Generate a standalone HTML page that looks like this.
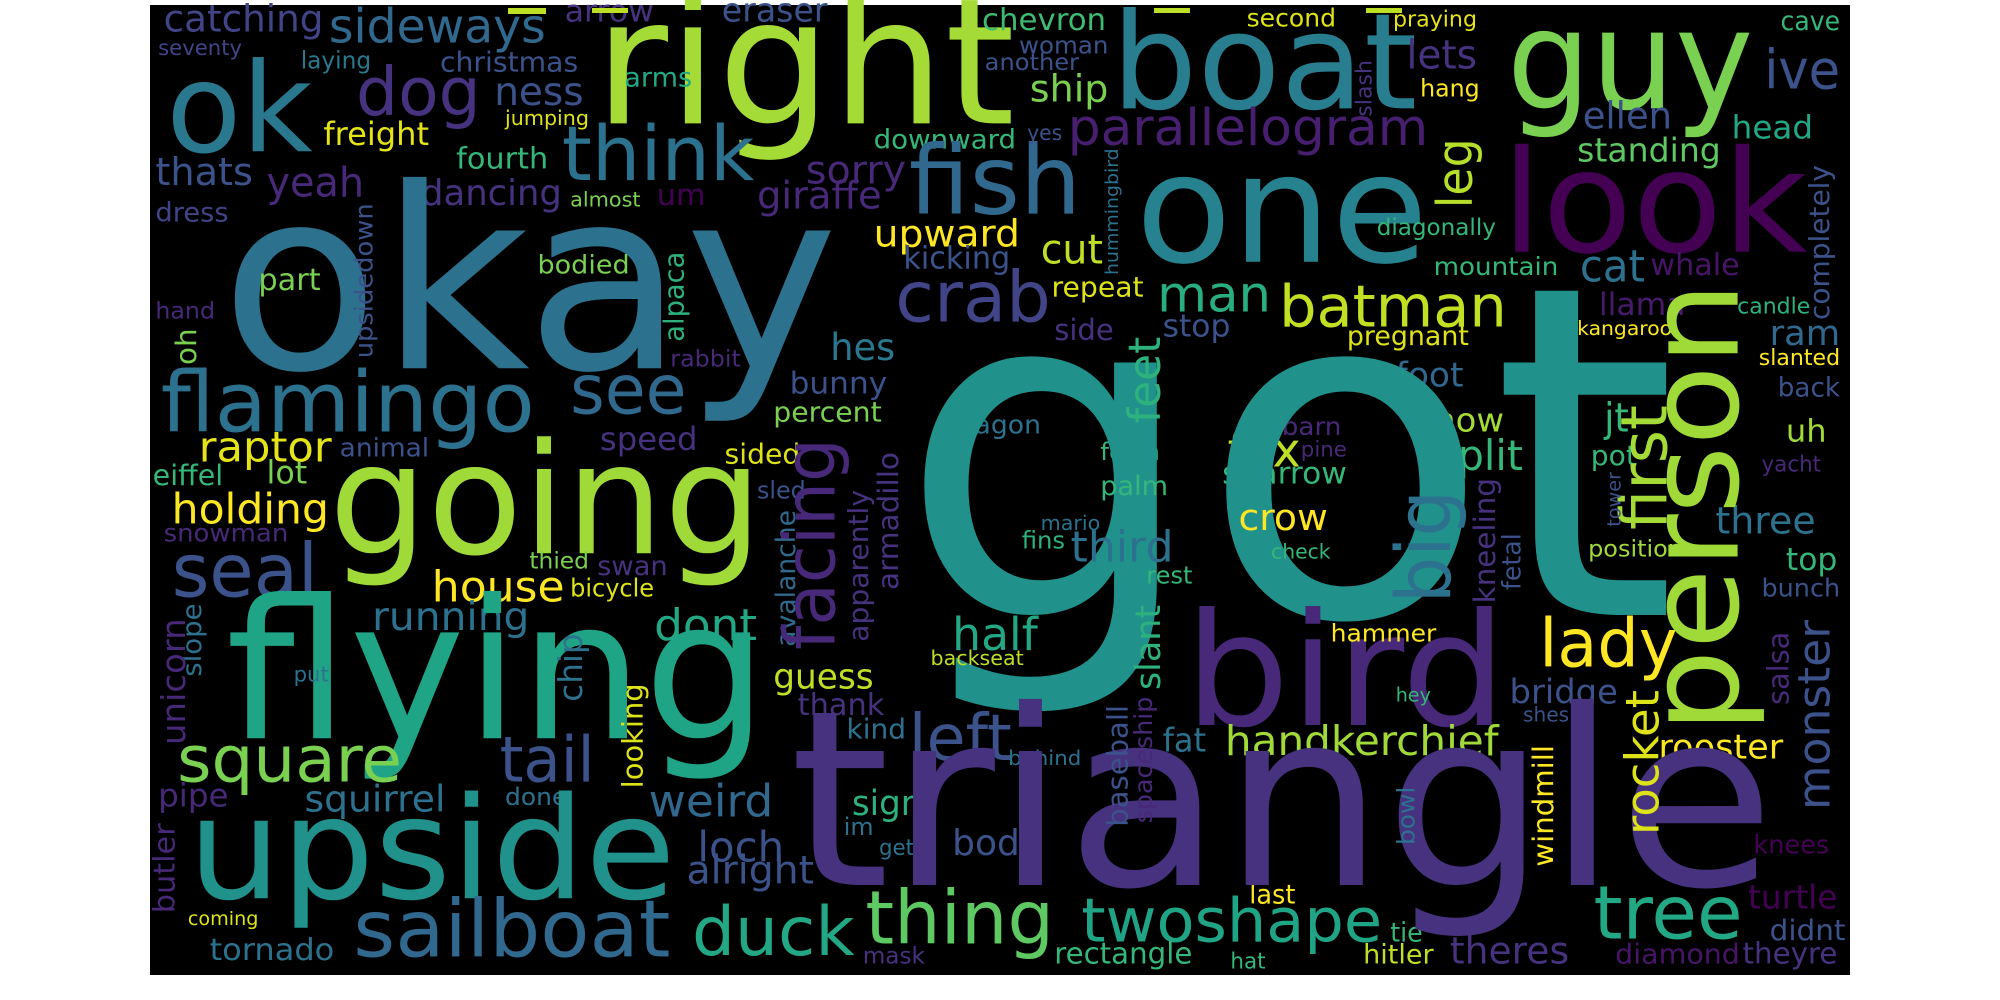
<!DOCTYPE html>
<html><head><meta charset="utf-8"><title>Word cloud</title>
<style>
html,body{margin:0;padding:0;background:#fff;width:2000px;height:1000px;overflow:hidden}
svg{display:block}
text{font-family:"DejaVu Sans","Liberation Sans",sans-serif}
</style></head>
<body>
<svg id="cloud" width="2000" height="1000" viewBox="0 0 2000 1000" xmlns="http://www.w3.org/2000/svg">
<rect x="150" y="5" width="1700" height="970" fill="#000"/>
<g id="words"></g>
<rect x="508" y="8" width="38" height="6" fill="#bddf26"/>
<rect x="592" y="8" width="36" height="5" fill="#bddf26"/>
<rect x="1154" y="8" width="36" height="5" fill="#bddf26"/>
<rect x="1366" y="8" width="36" height="5" fill="#bddf26"/>
</svg>
<script>
// quadrant origins of the reference crops
const quads = [[150,5],[1000,5],[150,490],[1000,490]];
// horizontal words: text, quadrant, left, baseline, right, colour
const horizWords = [
["catching",0,25,80,320,"#414487"],["sideways",0,330,112,730,"#31688e"],["seventy",0,15,150,170,"#414487"],
["laying",0,278,190,408,"#2a788e"],["christmas",0,535,200,790,"#3b528b"],["arrow",0,765,50,930,"#46327e"],
["eraser",0,1055,50,1250,"#3b528b"],["right",0,820,355,1596,"#a5db36"],["ok",0,30,440,300,"#2a788e"],
["dog",0,380,330,610,"#46327e"],["ness",0,635,300,800,"#3b528b"],["arms",0,875,245,1000,"#22a884"],
["jumping",0,655,360,810,"#dde318"],["freight",0,320,420,515,"#e5e419"],["think",0,760,525,1115,"#2c728e"],
["downward",0,1335,430,1598,"#35b779"],["fish",0,1400,625,1718,"#31688e"],["thats",0,10,540,190,"#3b528b"],
["yeah",0,215,575,395,"#482878"],["fourth",0,565,490,735,"#35b779"],["dancing",0,500,600,760,"#46327e"],
["um",0,935,600,1025,"#440154"],["sorry",0,1210,535,1395,"#482878"],["giraffe",0,1120,610,1350,"#482878"],
["almost",0,775,605,905,"#7ad151"],["dress",0,10,650,145,"#414487"],["upward",0,1335,725,1605,"#fde725"],
["kicking",0,1390,790,1587,"#3b528b"],["crab",0,1375,950,1662,"#414487"],["okay",0,130,1090,1270,"#2c728e"],
["part",0,200,855,315,"#7ad151"],["bodied",0,715,805,885,"#7ad151"],["hand",0,10,940,120,"#482878"],
["hes",0,1255,1065,1375,"#2a788e"],["rabbit",0,960,1085,1090,"#482878"],["flamingo",0,20,1280,710,"#2c728e"],
["see",0,775,1225,990,"#31688e"],["bunny",0,1180,1165,1360,"#3b528b"],["percent",0,1150,1250,1350,"#7ad151"],
["speed",0,830,1335,1010,"#46327e"],["raptor",0,90,1370,335,"#e5e419"],["animal",0,350,1355,515,"#3b528b"],
["sided",0,1060,1375,1200,"#dde318"],["eiffel",0,5,1440,135,"#35b779"],["lot",0,215,1435,290,"#7ad151"],
["dragon",0,1470,1285,1644,"#2c728e"],["chevron",0,1535,75,1764,"#3fbc73"],["another",0,1540,195,1714,"#3b528b"],
["boat",1,205,310,770,"#287d8e"],["second",1,455,65,620,"#dde318"],["praying",1,725,65,880,"#e5e419"],
["guy",1,935,310,1390,"#7ad151"],["cave",1,1440,75,1550,"#35b779"],["woman",1,35,145,200,"#3b528b"],
["ship",1,55,290,200,"#7ad151"],["lets",1,750,190,880,"#46327e"],["ive",1,1410,250,1550,"#3b528b"],
["hang",1,775,275,885,"#fde725"],["parallelogram",1,125,420,790,"#481f70"],["ellen",1,1075,370,1240,"#3b528b"],
["yes",1,50,405,115,"#3b528b"],["head",1,1350,400,1500,"#22a884"],["standing",1,1065,470,1330,"#5ec962"],
["one",1,250,770,790,"#26828e"],["look",1,925,740,1490,"#440154"],["diagonally",1,695,690,915,"#35b779"],
["cut",1,75,775,190,"#bddf26"],["mountain",1,800,810,1030,"#35b779"],["cat",1,1070,830,1190,"#2c728e"],
["whale",1,1200,810,1365,"#481467"],["man",1,290,920,500,"#29af7f"],["batman",1,515,965,935,"#c2df23"],
["repeat",1,95,875,265,"#dde318"],["llama",1,1105,930,1265,"#481a6c"],["candle",1,1360,925,1495,"#2db27d"],
["ram",1,1420,1020,1550,"#31688e"],["side",1,100,1005,210,"#46327e"],["stop",1,300,995,425,"#3b528b"],
["pregnant",1,640,1020,865,"#dde318"],["kangaroo",1,1065,990,1240,"#fde725"],["slanted",1,1400,1080,1550,"#fde725"],
["foot",1,730,1145,855,"#31688e"],["back",1,1435,1175,1550,"#3b528b"],["know",1,765,1280,930,"#a5db36"],
["barn",1,520,1290,630,"#482878"],["jt",1,1115,1280,1160,"#35b779"],["uh",1,1450,1310,1525,"#a0da39"],
["forth",1,185,1365,295,"#35b779"],["fox",1,420,1385,555,"#bddf26"],["pine",1,555,1355,640,"#482878"],
["split",1,805,1395,965,"#35b779"],["pot",1,1090,1380,1175,"#35b779"],["yacht",1,1405,1400,1515,"#482878"],
["sparrow",1,410,1435,640,"#35b779"],["got",1,-188,1830,1250,"#21918c"],
["palm",3,185,15,310,"#35b779"],["crow",3,440,120,605,"#fde725"],["mario",3,75,120,185,"#2c728e"],
["fins",3,40,175,120,"#2db27d"],["third",3,130,215,320,"#2c728e"],["check",3,500,205,610,"#35b779"],
["position",3,1085,200,1260,"#a0da39"],["three",3,1320,130,1505,"#2c728e"],["top",3,1450,240,1545,"#35b779"],
["rest",3,270,280,355,"#35b779"],["bunch",3,1405,320,1550,"#3b528b"],["bird",3,340,705,935,"#482878"],
["hammer",3,610,455,805,"#fde725"],["lady",3,995,530,1250,"#fde725"],["hey",3,730,635,795,"#35b779"],
["bridge",3,940,640,1140,"#3b528b"],["shes",3,965,695,1050,"#3b528b"],["fat",3,300,785,380,"#2c728e"],
["handkerchief",3,415,795,920,"#a0da39"],["behind",3,15,825,150,"#2c728e"],["rooster",3,1215,805,1445,"#fde725"],
["knees",3,1390,1090,1530,"#440154"],["twoshape",3,150,1355,705,"#20a486"],["last",3,460,1240,545,"#fde725"],
["tree",3,1095,1345,1370,"#22a884"],["turtle",3,1380,1255,1545,"#440154"],["tie",3,720,1355,780,"#35b779"],
["didnt",3,1420,1350,1560,"#3b528b"],["rectangle",3,100,1420,355,"#35b779"],["hat",3,425,1435,490,"#35b779"],
["hitler",3,670,1420,800,"#bddf26"],["theres",3,830,1420,1050,"#46327e"],["diamond",3,1135,1420,1365,"#481467"],
["theyre",3,1370,1420,1545,"#46327e"],
["holding",2,40,100,330,"#fde725"],["snowman",2,25,155,255,"#482878"],["seal",2,40,320,310,"#3b528b"],
["going",2,330,190,1130,"#a0da39"],["sled",2,1120,25,1210,"#3b528b"],["thied",2,700,235,810,"#7ad151"],
["swan",2,825,255,955,"#46327e"],["house",2,520,335,765,"#fde725"],["bicycle",2,775,320,930,"#dde318"],
["running",2,410,420,700,"#2c728e"],["dont",2,930,450,1120,"#22a884"],["flying",2,140,745,1140,"#20a486"],
["put",2,265,575,330,"#2c728e"],["guess",2,1150,595,1335,"#bddf26"],["thank",2,1195,675,1355,"#46327e"],
["kind",2,1285,745,1395,"#2c728e"],["left",2,1400,810,1590,"#3b528b"],["square",2,50,875,465,"#7ad151"],
["tail",2,645,875,820,"#3b528b"],["pipe",2,15,950,145,"#482878"],["squirrel",2,285,965,545,"#2c728e"],
["done",2,655,945,770,"#2c728e"],["weird",2,920,980,1150,"#31688e"],["sign",2,1295,975,1425,"#2db27d"],
["upside",2,70,1225,970,"#21918c"],["loch",2,1010,1115,1170,"#3b528b"],["im",2,1280,1035,1335,"#2c728e"],
["gets",2,1345,1095,1430,"#2c728e"],["alright",2,990,1180,1225,"#3b528b"],["coming",2,70,1305,200,"#dde318"],
["sailboat",2,375,1400,960,"#31688e"],["duck",2,1000,1395,1300,"#22a884"],["tornado",2,110,1410,340,"#2c728e"],
["mask",2,1315,1420,1430,"#46327e"],["half",2,1480,480,1638,"#22a884"],["backseat",2,1440,525,1612,"#bddf26"],
["thing",2,1320,1360,1668,"#5ec962"],["body",2,1480,1095,1644,"#3b528b"],["triangle",2,1180,1185,2998,"#46327e"]
];
// vertical words (read bottom to top): text, quadrant, right edge, top, bottom, colour
const vertWords = [
["upsidedown",0,420,595,1060,"#3b528b"],["alpaca",0,995,740,1010,"#2db27d"],["oh",0,85,970,1080,"#7ad151"],
["slash",1,685,165,335,"#46327e"],["leg",1,890,400,610,"#b5de2b"],["hummingbird",1,225,430,810,"#2c728e"],
["completely",1,1540,480,945,"#3b528b"],["person",1,1410,830,2184,"#a0da39"],["feet",1,295,995,1255,"#2db27d"],
["first",1,1230,1200,1575,"#a5db36"],
["fetal",3,960,130,300,"#3b528b"],["slant",3,295,345,600,"#2db27d"],["spaceship",3,290,620,1000,"#482878"],
["baseball",3,235,645,1010,"#3b528b"],["rocket",3,1215,600,1035,"#dde318"],["salsa",3,1455,425,645,"#482878"],
["monster",3,1530,390,960,"#3b528b"],["bowl",3,765,890,1065,"#2c728e"],["windmill",3,1020,765,1130,"#fde725"],
["big",3,860,0,340,"#2c728e"],["kneeling",3,925,-36,340,"#46327e"],["tower",3,1145,-54,110,"#3b528b"],
["avalanche",2,1190,60,470,"#31688e"],["apparently",2,1335,0,455,"#46327e"],["armadillo",2,1380,-114,300,"#46327e"],
["facing",2,1290,-156,480,"#482878"],["slope",2,105,340,560,"#2c728e"],["unicorn",2,65,385,765,"#482878"],
["chip",2,810,430,635,"#2c728e"],["looking",2,920,580,895,"#dde318"],["butler",2,45,1000,1270,"#482878"]
];
const SX = 1.845, SY = 3, NS = "http://www.w3.org/2000/svg";
const SIZE_FACTOR = 0.91;
// approximate glyph advance widths (em) of the reference typeface
const ADV = {a:.561,b:.615,c:.48,d:.615,e:.564,f:.344,g:.546,h:.618,i:.258,j:.258,k:.528,l:.258,m:.941,
  n:.618,o:.605,p:.615,q:.615,r:.408,s:.479,t:.352,u:.618,v:.5,w:.775,x:.523,y:.5,z:.46};
const layer = document.getElementById('words');
function rx(q, zx){ return quads[q][0] + zx / SX; }
function ry(q, zy){ return quads[q][1] + zy / SY; }
function emWidth(word){
  let s = 0;
  for (const c of word) s += (ADV[c] || .55);
  return s - 0.06;
}
function sizeFor(word, len){
  let fs = SIZE_FACTOR * len / emWidth(word);
  if (fs > 120) fs = 120 + (fs - 120) * 0.92;
  return fs;
}
function makeText(word, color){
  const t = document.createElementNS(NS, 'text');
  t.textContent = word;
  t.setAttribute('fill', color);
  layer.appendChild(t);
  return t;
}
horizWords.forEach(function(w){
  const t = makeText(w[0], w[5]);
  
  
  const L = rx(w[1], w[2]), R = rx(w[1], w[4]), B = ry(w[1], w[3]);
  const len = R - L;
  const fs = sizeFor(w[0], len);
  t.setAttribute('font-size', fs.toFixed(1));
  t.setAttribute('x', L.toFixed(1));
  t.setAttribute('y', B.toFixed(1));
  t.setAttribute('textLength', len.toFixed(1));
  t.setAttribute('lengthAdjust', 'spacingAndGlyphs');
});
vertWords.forEach(function(w){
  const t = makeText(w[0], w[5]);
  
  
  const xr = rx(w[1], w[2]), top = ry(w[1], w[3]), bot = ry(w[1], w[4]);
  const len = bot - top;
  const fs = sizeFor(w[0], len);
  const base = /[gpqjy]/.test(w[0]) ? xr - 0.21 * fs : xr;
  t.setAttribute('font-size', fs.toFixed(1));
  t.setAttribute('x', base.toFixed(1));
  t.setAttribute('y', bot.toFixed(1));
  t.setAttribute('textLength', len.toFixed(1));
  t.setAttribute('lengthAdjust', 'spacingAndGlyphs');
  t.setAttribute('transform', 'rotate(-90 ' + base.toFixed(1) + ' ' + bot.toFixed(1) + ')');
});
</script>
</body></html>
